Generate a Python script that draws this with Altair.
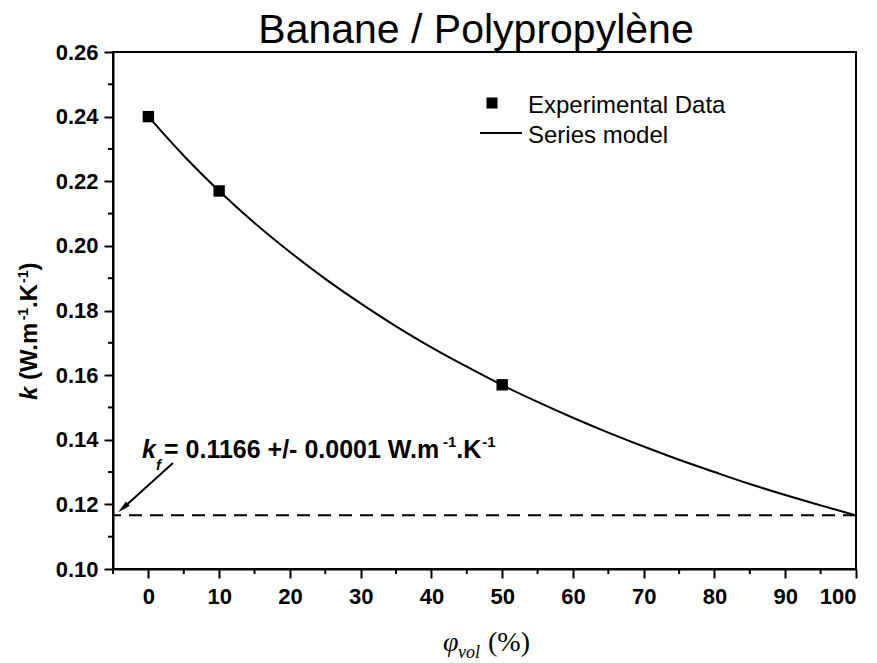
import altair as alt
import pandas as pd

# ---------------- data ----------------
title_text = "Banane / Polypropylène"
phi_exp = [0, 10, 50]
k_exp = [0.240, 0.217, 0.157]
phi_model = [0, 5, 10, 15, 20, 25, 30, 35, 40, 45, 50, 55, 60, 65, 70, 75, 80, 85, 90, 95, 100]
k_model = [0.2400, 0.2279, 0.2170, 0.2071, 0.1981, 0.1898, 0.1822, 0.1751, 0.1686, 0.1626,
           0.1569, 0.1517, 0.1468, 0.1422, 0.1379, 0.1338, 0.1300, 0.1263, 0.1229, 0.1197, 0.1166]
kf = 0.1166
x_major = [0, 10, 20, 30, 40, 50, 60, 70, 80, 90, 100]
x_minor = [-5, 5, 15, 25, 35, 45, 55, 65, 75, 85, 95]
y_major = [0.10, 0.12, 0.14, 0.16, 0.18, 0.20, 0.22, 0.24, 0.26]
y_minor = [0.11, 0.13, 0.15, 0.17, 0.19, 0.21, 0.23, 0.25]
legend_labels = ["Experimental Data", "Series model"]

df_exp = pd.DataFrame({"phi": phi_exp, "k": k_exp})
df_model = pd.DataFrame({"phi": phi_model, "k": k_model})
df_kf = pd.DataFrame({"kf": [kf]})
df_xminor = pd.DataFrame({"v": x_minor})
df_yminor = pd.DataFrame({"v": y_minor})
dummy = pd.DataFrame({"a": [0]})

W, H = 743, 517
SANS = "Liberation Sans"
SERIF = "Liberation Serif"

# Arial / Liberation Sans Bold advance widths (per 1000 em)
BW = {' ': 278, '=': 584, '.': 278, '+': 584, '/': 278, '-': 333, 'W': 944, 'm': 889,
      'K': 722, 'k': 556, 'f': 333, '(': 333, ')': 333}
for d in "0123456789":
    BW[d] = 556


def tw(s, size):
    return sum(BW.get(c, 556) for c in s) * size / 1000.0


def txt(s, x, y, size, weight="bold", style="normal", font=SANS, angle=0,
        align="left", baseline="alphabetic"):
    return alt.Chart(dummy).mark_text(
        text=s, fontSize=size, fontWeight=weight, fontStyle=style, font=font,
        angle=angle, align=align, baseline=baseline, color="black"
    ).encode(x=alt.value(x), y=alt.value(y))


xscale = alt.Scale(domain=[-5, 100], nice=False, zero=False)
yscale = alt.Scale(domain=[0.10, 0.26], nice=False, zero=False)

xaxis = alt.Axis(values=x_major, title=None, grid=False, labelOverlap=False,
                 tickSize=9, labelPadding=8)
yaxis = alt.Axis(values=y_major, title=None, grid=False, format=".2f", labelOverlap=False,
                 tickSize=9, labelPadding=6)

model = alt.Chart(df_model).mark_line(color="black", strokeWidth=2, interpolate="monotone").encode(
    x=alt.X("phi:Q", scale=xscale, axis=xaxis),
    y=alt.Y("k:Q", scale=yscale, axis=yaxis),
)
dashed = alt.Chart(df_kf).mark_rule(color="black", strokeWidth=2, strokeDash=[13, 8]).encode(
    y=alt.Y("kf:Q", scale=yscale)
)
points = alt.Chart(df_exp).mark_point(shape="square", filled=True, size=130, color="black",
                                      opacity=1).encode(
    x=alt.X("phi:Q", scale=xscale),
    y=alt.Y("k:Q", scale=yscale),
)
# minor ticks
xminor = alt.Chart(df_xminor).mark_rule(color="black", strokeWidth=2).encode(
    x=alt.X("v:Q", scale=xscale), y=alt.value(H), y2=alt.value(H + 5))
yminor = alt.Chart(df_yminor).mark_rule(color="black", strokeWidth=2).encode(
    y=alt.Y("v:Q", scale=yscale), x=alt.value(0), x2=alt.value(-5))

layers = [model, dashed, points, xminor, yminor]

# title
layers.append(txt(title_text, 363, -9, 41, weight="normal", align="center"))

# legend
layers.append(alt.Chart(dummy).mark_point(shape="square", filled=True, size=121, color="black",
                                          opacity=1).encode(x=alt.value(379), y=alt.value(51)))
layers.append(txt(legend_labels[0], 415, 61, 24, weight="normal"))
layers.append(alt.Chart(dummy).mark_rule(color="black", strokeWidth=2).encode(
    x=alt.value(367), x2=alt.value(409), y=alt.value(81)))
layers.append(txt(legend_labels[1], 415, 91, 24, weight="normal"))

# annotation k_f = ...
F, S = 25, 15
ax, ay = 29, 406
layers.append(txt("k", ax, ay, F, style="italic"))
layers.append(txt("f", ax + tw("k", F), ay + 12, S, style="italic"))
s1 = "= 0.1166 +/- 0.0001 W.m"
x1 = 51
layers.append(txt(s1, x1, ay, F))
x2 = x1 + tw(s1, F) + 1
layers.append(txt("-1", x2, ay - 11, S))
x3 = x2 + tw("-1", S)
layers.append(txt(".K", x3, ay, F))
x4 = x3 + tw(".K", F) + 1
layers.append(txt("-1", x4, ay - 11, S))

# arrow
layers.append(alt.Chart(dummy).mark_rule(color="black", strokeWidth=2).encode(
    x=alt.value(60), y=alt.value(411), x2=alt.value(9), y2=alt.value(457)))
layers.append(alt.Chart(dummy).mark_point(
    shape="M0,-1L0.45,1L-0.45,1Z", filled=True, size=170, color="black", opacity=1,
    angle=228).encode(x=alt.value(10), y=alt.value(456)))

# y axis title (rotated pieces)
F2, S2 = 24, 14
bx, by = -76, 348
layers.append(txt("k", bx, by, F2, style="italic", angle=270))
y = by - tw("k", F2) - tw(" ", F2)
p = "(W.m"
layers.append(txt(p, bx, y, F2, angle=270))
y -= tw(p, F2) + 1
layers.append(txt("-1", bx - 9, y, S2, angle=270))
y -= tw("-1", S2)
layers.append(txt(".K", bx, y, F2, angle=270))
y -= tw(".K", F2) + 1
layers.append(txt("-1", bx - 9, y, S2, angle=270))
y -= tw("-1", S2)
layers.append(txt(")", bx, y, F2, angle=270))

# x axis title
layers.append(txt("φ", 330, 599, 28, weight="normal", style="italic", font=SERIF))
layers.append(txt("vol", 345, 606, 18, weight="normal", style="italic", font=SERIF))
layers.append(txt("(%)", 375, 599, 28, weight="normal", font=SERIF))

chart = alt.layer(*layers).properties(
    width=W, height=H,
    autosize=alt.AutoSizeParams(type="none"),
    padding={"left": 105, "top": 44, "right": 13, "bottom": 94},
).configure_view(
    stroke="black", strokeWidth=2
).configure_axis(
    domainColor="black", domainWidth=2, tickColor="black", tickWidth=2,
    labelFont=SANS, labelFontWeight="bold", labelFontSize=22, labelColor="black",
)

chart.save("out.html", embed_options={"renderer": "svg", "actions": False})
